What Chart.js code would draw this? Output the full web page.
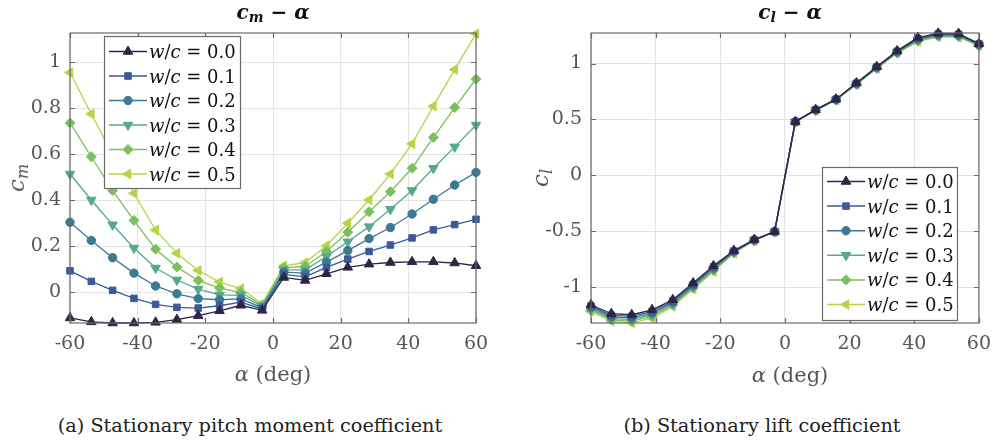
<!DOCTYPE html>
<html>
<head>
<meta charset="utf-8">
<script src="https://cdn.jsdelivr.net/npm/chart.js@4.4.1/dist/chart.umd.min.js"></script>
<style>
body{margin:0;background:#fff;width:1001px;height:443px;overflow:hidden;position:relative;font-family:"DejaVu Serif",serif;}
canvas{position:absolute;top:0}
#cmChart{left:0}
#clChart{left:500px}
.lbl{position:absolute;white-space:nowrap;transform:translate(-50%,-50%);line-height:1}
.title{font-size:20px;color:#111;font-weight:bold}
.xlab{font-size:21px;color:#555}
.ylab{font-size:23px;color:#555;transform:translate(-50%,-50%) rotate(-90deg)}
.cap{font-size:19.3px;color:#222}
sub{font-size:0.7em;vertical-align:-0.25em}
</style>
</head>
<body>
<canvas id="cmChart" width="500" height="400"></canvas>
<canvas id="clChart" width="501" height="400"></canvas>

<div class="lbl title" style="left:273px;top:13px"><i>c</i><sub><i>m</i></sub> &minus; <i>α</i></div>
<div class="lbl title" style="left:790px;top:13px"><i>c</i><sub><i>l</i></sub> &minus; <i>α</i></div>
<div class="lbl xlab" style="left:273px;top:374px"><i>α</i> (deg)</div>
<div class="lbl xlab" style="left:790px;top:375px"><i>α</i> (deg)</div>
<div class="lbl ylab" style="left:18px;top:178px"><i>c</i><sub><i>m</i></sub></div>
<div class="lbl ylab" style="left:542px;top:178px"><i>c</i><sub><i>l</i></sub></div>
<div class="lbl cap" style="left:250px;top:426px">(a) Stationary pitch moment coefficient</div>
<div class="lbl cap" style="left:762px;top:426px">(b) Stationary lift coefficient</div>

<script>
// angle of attack (deg)
const alpha = [-60, -53.7, -47.4, -41.1, -34.7, -28.4, -22.1, -15.8, -9.5, -3.2, 3.2, 9.5, 15.8, 22.1, 28.4, 34.7, 41.1, 47.4, 53.7, 60]

const ratios = ["0.0", "0.1", "0.2", "0.3", "0.4", "0.5"]

// pitch moment coefficient per w/c
const cm00 = [-0.111, -0.128, -0.133, -0.133, -0.130, -0.118, -0.101, -0.080, -0.056, -0.078, 0.065, 0.052, 0.081, 0.109, 0.123, 0.130, 0.133, 0.133, 0.128, 0.116]
const cm01 = [0.094, 0.048, 0.009, -0.026, -0.052, -0.065, -0.068, -0.058, -0.042, -0.072, 0.078, 0.068, 0.109, 0.145, 0.178, 0.206, 0.237, 0.272, 0.295, 0.318]
const cm02 = [0.305, 0.226, 0.151, 0.084, 0.028, -0.006, -0.027, -0.032, -0.028, -0.066, 0.088, 0.084, 0.132, 0.182, 0.234, 0.282, 0.341, 0.405, 0.467, 0.522]
const cm03 = [0.515, 0.402, 0.294, 0.193, 0.106, 0.054, 0.014, -0.011, -0.013, -0.060, 0.098, 0.098, 0.156, 0.220, 0.286, 0.362, 0.443, 0.540, 0.633, 0.728]
const cm04 = [0.737, 0.590, 0.443, 0.313, 0.188, 0.110, 0.052, 0.019, 0.000, -0.055, 0.107, 0.113, 0.178, 0.262, 0.351, 0.438, 0.540, 0.674, 0.804, 0.928]
const cm05 = [0.956, 0.776, 0.600, 0.431, 0.271, 0.170, 0.095, 0.045, 0.017, -0.049, 0.116, 0.130, 0.203, 0.301, 0.402, 0.515, 0.646, 0.810, 0.969, 1.125]

// lift coefficient per w/c
const cl00 = [-1.158, -1.238, -1.247, -1.203, -1.113, -0.964, -0.810, -0.673, -0.575, -0.503, 0.479, 0.587, 0.681, 0.826, 0.972, 1.113, 1.232, 1.270, 1.268, 1.178]
const cl01 = [-1.170, -1.252, -1.262, -1.218, -1.125, -0.975, -0.820, -0.678, -0.577, -0.503, 0.479, 0.586, 0.680, 0.823, 0.969, 1.109, 1.224, 1.264, 1.262, 1.174]
const cl02 = [-1.182, -1.266, -1.276, -1.232, -1.137, -0.986, -0.830, -0.683, -0.579, -0.504, 0.479, 0.585, 0.678, 0.820, 0.965, 1.105, 1.216, 1.258, 1.255, 1.170]
const cl03 = [-1.194, -1.280, -1.291, -1.247, -1.149, -0.996, -0.841, -0.687, -0.581, -0.504, 0.479, 0.583, 0.676, 0.817, 0.962, 1.100, 1.209, 1.251, 1.248, 1.166]
const cl04 = [-1.206, -1.293, -1.305, -1.262, -1.161, -1.007, -0.851, -0.692, -0.583, -0.505, 0.479, 0.582, 0.674, 0.815, 0.958, 1.096, 1.202, 1.245, 1.241, 1.162]
const cl05 = [-1.218, -1.307, -1.320, -1.277, -1.173, -1.018, -0.861, -0.696, -0.585, -0.505, 0.479, 0.580, 0.672, 0.812, 0.955, 1.092, 1.195, 1.238, 1.235, 1.158]

// tick labels
const alphaTicks = [-60, -40, -20, 0, 20, 40, 60]
const cmTicks = [0, 0.2, 0.4, 0.6, 0.8, 1]
const clTicks = [-1, -0.5, 0, 0.5, 1]

const colors = ["#2f2544", "#3a5a9a", "#3f7893", "#56a98a", "#7bbf5f", "#b6d448"]
const markers = [
  {style: "triangle", rot: 0, r: 5.5},
  {style: "rect", rot: 0, r: 4.6},
  {style: "circle", rot: 0, r: 4.2},
  {style: "triangle", rot: 180, r: 5.5},
  {style: "rectRot", rot: 0, r: 5},
  {style: "triangle", rot: -90, r: 5.5}
]

const FRAME = "#6a6a6a"
const TICKCOL = "#555"
const FAMILY = "'DejaVu Serif'"

function makeSets(list){
  return list.map((vals, i) => ({
    label: "w/c = " + ratios[i],
    data: vals.map((v, j) => ({x: alpha[j], y: v})),
    borderColor: colors[i],
    backgroundColor: colors[i],
    borderWidth: 1.3,
    pointStyle: markers[i].style,
    pointRotation: markers[i].rot,
    pointRadius: markers[i].r,
    pointBorderWidth: 1,
    tension: 0,
    clip: false
  }))
}

// axes box with inward ticks like matlab
const framePlugin = {
  id: "frame",
  afterDatasetsDraw(chart){
    const {ctx, chartArea: a, scales} = chart
    ctx.save()
    ctx.strokeStyle = FRAME
    ctx.lineWidth = 1.2
    ctx.strokeRect(a.left, a.top, a.right - a.left, a.bottom - a.top)
    ctx.beginPath()
    scales.x.ticks.forEach(t => {
      const px = Math.round(scales.x.getPixelForValue(t.value)) + 0.5
      ctx.moveTo(px, a.bottom); ctx.lineTo(px, a.bottom - 5)
      ctx.moveTo(px, a.top); ctx.lineTo(px, a.top + 5)
    })
    scales.y.ticks.forEach(t => {
      const py = Math.round(scales.y.getPixelForValue(t.value)) + 0.5
      ctx.moveTo(a.left, py); ctx.lineTo(a.left + 5, py)
      ctx.moveTo(a.right, py); ctx.lineTo(a.right - 5, py)
    })
    ctx.stroke()
    ctx.restore()
  }
}

// legend box with italic math parts
const mathLegend = {
  id: "mathLegend",
  afterDraw(chart, args, opts){
    const ctx = chart.ctx
    const b = opts.box
    ctx.save()
    ctx.fillStyle = "#fff"
    ctx.fillRect(b.x, b.y, b.w, b.h)
    ctx.strokeStyle = FRAME
    ctx.lineWidth = 1.2
    ctx.strokeRect(b.x + 0.5, b.y + 0.5, b.w, b.h)
    chart.data.datasets.forEach((ds, i) => {
      const y = b.y + b.first + i * b.step
      ctx.strokeStyle = ds.borderColor
      ctx.lineWidth = 1.5
      ctx.beginPath()
      ctx.moveTo(b.x + 5, y); ctx.lineTo(b.x + 43, y)
      ctx.stroke()
      ctx.fillStyle = ds.backgroundColor
      ctx.strokeStyle = ds.borderColor
      ctx.lineWidth = 1
      Chart.helpers.drawPoint(ctx, {pointStyle: ds.pointStyle, rotation: ds.pointRotation, radius: ds.pointRadius, borderWidth: 1}, b.x + 24, y)
      let tx = b.x + 45
      const parts = [["w", true], ["/", false], ["c", true], [" = " + ratios[i], false]]
      ctx.fillStyle = "#111"
      ctx.textBaseline = "alphabetic"
      parts.forEach(p => {
        ctx.font = (p[1] ? "italic " : "") + "18px " + FAMILY
        ctx.fillText(p[0], tx, y + 6.5)
        tx += ctx.measureText(p[0]).width
      })
    })
    ctx.restore()
  }
}

function buildChart(id, sets, yMin, yMax, yTicks, yWidth, padRight, box){
  const tickFont = {family: FAMILY, size: 19}
  return new Chart(document.getElementById(id), {
    type: "line",
    data: {datasets: makeSets(sets)},
    options: {
      responsive: false,
      animation: false,
      layout: {padding: {left: 0, right: padRight, top: 33, bottom: 0}},
      plugins: {
        legend: {display: false},
        tooltip: {enabled: false},
        mathLegend: {box: box}
      },
      scales: {
        x: {
          type: "linear", min: -60, max: 60,
          afterBuildTicks: s => { s.ticks = alphaTicks.map(v => ({value: v})) },
          afterFit: s => { s.height = 77 },
          grid: {color: "#e4e4e4", drawTicks: false},
          border: {display: false},
          ticks: {color: TICKCOL, padding: 10, font: tickFont, callback: v => String(v)}
        },
        y: {
          type: "linear", min: yMin, max: yMax,
          afterBuildTicks: s => { s.ticks = yTicks.map(v => ({value: v})) },
          afterFit: s => { s.width = yWidth },
          grid: {color: "#e4e4e4", drawTicks: false},
          border: {display: false},
          ticks: {color: TICKCOL, padding: 9, font: tickFont, callback: v => String(v)}
        }
      }
    },
    plugins: [framePlugin, mathLegend]
  })
}

buildChart("cmChart", [cm00, cm01, cm02, cm03, cm04, cm05], -0.133, 1.128, cmTicks, 70, 24,
  {x: 104, y: 36, w: 136, h: 152, first: 15.5, step: 24.5})
buildChart("clChart", [cl00, cl01, cl02, cl03, cl04, cl05], -1.321, 1.273, clTicks, 91, 12,
  {x: 322, y: 167, w: 135, h: 153, first: 14.5, step: 24.6})
</script>
</body>
</html>
